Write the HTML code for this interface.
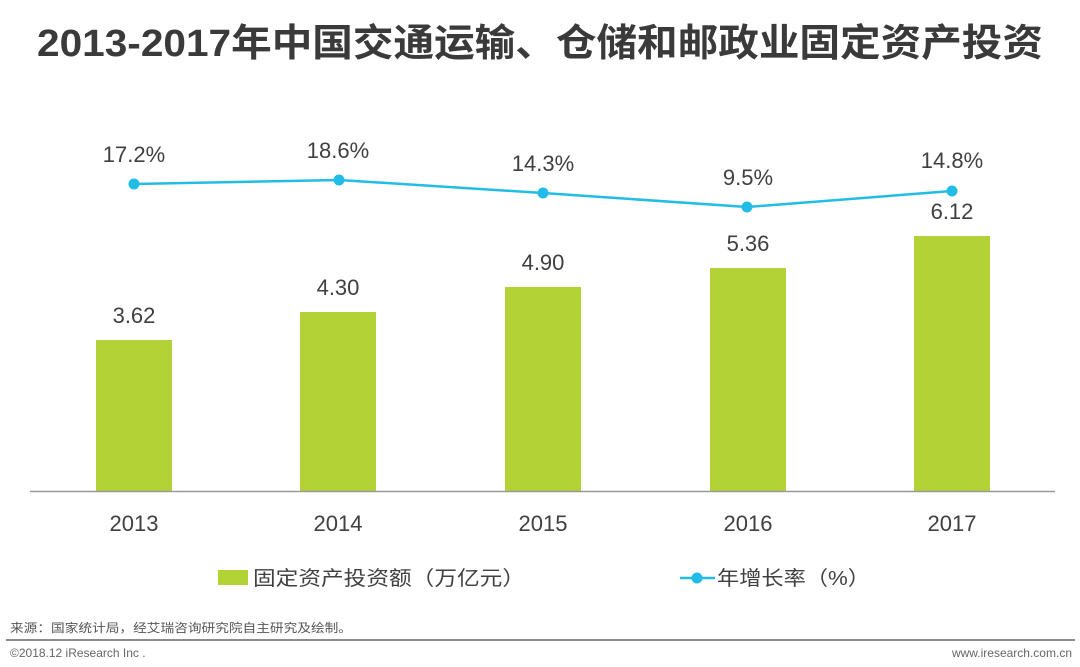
<!DOCTYPE html>
<html><head><meta charset="utf-8"><style>
html,body{margin:0;padding:0;background:#fff;}
svg{display:block;}
text{font-family:"Liberation Sans","Noto Sans CJK SC",sans-serif;}
</style></head><body>
<svg width="1080" height="667" viewBox="0 0 1080 667" xmlns="http://www.w3.org/2000/svg">
<rect width="1080" height="667" fill="#fff"/>
<text x="540" y="56" text-anchor="middle" font-size="38" font-weight="bold" fill="#3a3a3a" textLength="1006" lengthAdjust="spacingAndGlyphs">2013-2017年中国交通运输、仓储和邮政业固定资产投资</text>
<g fill="#b2d235">
<rect x="96" y="340" width="76" height="151"/>
<rect x="300" y="312" width="76" height="179"/>
<rect x="505" y="287" width="76" height="204"/>
<rect x="710" y="268" width="76" height="223"/>
<rect x="914" y="236" width="76" height="255"/>
</g>
<line x1="30" y1="491.5" x2="1055" y2="491.5" stroke="#999" stroke-width="1.5"/>
<g font-size="22" fill="#404040" text-anchor="middle">
<text x="134" y="323">3.62</text><text x="338" y="295">4.30</text><text x="543" y="270">4.90</text><text x="748" y="251">5.36</text><text x="952" y="219">6.12</text>
<text x="134" y="531">2013</text><text x="338" y="531">2014</text><text x="543" y="531">2015</text><text x="748" y="531">2016</text><text x="952" y="531">2017</text>
<text x="134" y="162">17.2%</text><text x="338" y="158">18.6%</text><text x="543" y="171">14.3%</text><text x="748" y="185">9.5%</text><text x="952" y="168">14.8%</text>
</g>
<polyline points="134,184 339,180 543,193 747,207 952,191" fill="none" stroke="#22bde6" stroke-width="2.5"/>
<g fill="#22bde6">
<circle cx="134" cy="184" r="5.5"/><circle cx="339" cy="180" r="5.5"/><circle cx="543" cy="193" r="5.5"/><circle cx="747" cy="207" r="5.5"/><circle cx="952" cy="191" r="5.5"/>
</g>
<rect x="218" y="570" width="30" height="15" fill="#b2d235"/>
<text x="253" y="585" font-size="20" fill="#404040" textLength="272" lengthAdjust="spacingAndGlyphs">固定资产投资额（万亿元）</text>
<line x1="680" y1="578" x2="715" y2="578" stroke="#22bde6" stroke-width="2.5"/>
<circle cx="697" cy="578" r="5.5" fill="#22bde6"/>
<text x="717" y="585" font-size="20" fill="#404040" textLength="153" lengthAdjust="spacingAndGlyphs">年增长率（%）</text>
<text x="10" y="632" font-size="12" fill="#555" textLength="342" lengthAdjust="spacingAndGlyphs">来源：国家统计局，经艾瑞咨询研究院自主研究及绘制。</text>
<line x1="6" y1="640" x2="1075" y2="640" stroke="#8c8c8c" stroke-width="2"/>
<text x="10" y="657" font-size="12" fill="#666">©2018.12 iResearch Inc .</text>
<text x="1072" y="657" font-size="12" fill="#666" text-anchor="end">www.iresearch.com.cn</text>
</svg>
</body></html>
